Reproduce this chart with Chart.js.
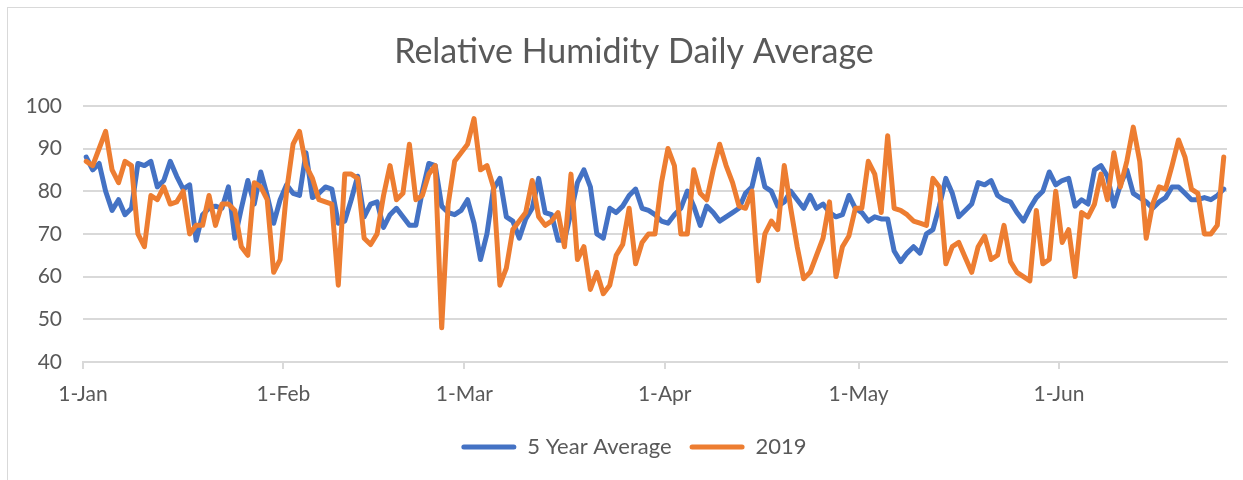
<!DOCTYPE html>
<html>
<head>
<meta charset="utf-8">
<script src="https://cdn.jsdelivr.net/npm/chart.js@4.4.1/dist/chart.umd.min.js"></script>
<style>
  html, body { margin: 0; padding: 0; background: #fff; overflow: hidden; width: 1243px; height: 480px; }
  #frame { position: absolute; left: 7px; top: 7px; width: 1300px; height: 520px; border: 1px solid #d9d9d9; box-sizing: border-box; }
  #wrap { position: absolute; left: 0; top: 0; width: 1243px; height: 480px; }
</style>
</head>
<body>
<div id="frame"></div>
<div id="wrap"><canvas id="chart" width="1243" height="480"></canvas></div>
<script>
'use strict';

// day offsets (from 1-Jan) where the month ticks sit
const monthTicks = [0, 31, 59, 90, 120, 151];
const monthLabels = ['1-Jan', '1-Feb', '1-Mar', '1-Apr', '1-May', '1-Jun'];
const dayCount = 177; // 1-Jan .. 26-Jun

const avg5yr = [
  88, 85, 86.5, 80, 75.5, 78, 74.5, 76, 86.5, 86,
  87, 81, 82.5, 87, 83.5, 80.5, 81.5, 68.5, 74.5, 76,
  76.5, 76, 81, 69, 76, 82.5, 77, 84.5, 79, 72.5,
  78, 81.5, 79.5, 79, 89, 78.5, 79.5, 81, 80.5, 72.5,
  73, 78, 83.5, 74, 77, 77.5, 71.5, 74.5, 76, 74,
  72, 72, 80, 86.5, 86, 76.5, 75, 74.5, 75.5, 78,
  72.5, 64, 70, 80.5, 83, 74, 73, 69, 73.5, 76,
  83, 75, 74.5, 68.5, 68.5, 75, 82, 85, 81, 70,
  69, 76, 75, 76.5, 79, 80.5, 76, 75.5, 74.5, 73,
  72.5, 74.5, 76, 80, 76.5, 72, 76.5, 75, 73, 74,
  75, 76, 79.5, 81, 87.5, 81, 80, 76.5, 77.5, 80,
  78, 76, 79, 76, 77, 75, 74, 74.5, 79, 76,
  75, 73, 74, 73.5, 73.5, 66, 63.5, 65.5, 67, 65.5,
  70, 71, 76.5, 83, 79.5, 74, 75.5, 77, 82, 81.5,
  82.5, 79, 78, 77.5, 75, 73, 76, 78.5, 80, 84.5,
  81.5, 82.5, 83, 76.5, 78, 77, 85, 86, 83.5, 76.5,
  81.5, 85, 79.5, 78.5, 77.5, 76, 77.5, 78.5, 81, 81,
  79.5, 78, 78, 78.5, 78, 79, 80.5
];

const rh2019 = [
  87, 86, 90, 94, 85, 82, 87, 86, 70, 67,
  79, 78, 81, 77, 77.5, 80, 70, 72, 72, 79,
  72, 77, 77, 75.5, 67, 65, 82, 81, 78, 61,
  64, 80, 91, 94, 86, 83, 78, 77.5, 77, 58,
  84, 84, 83, 69, 67.5, 70, 79, 86, 78, 79.5,
  91, 78, 79, 84, 86, 48, 77, 87, 89, 91,
  97, 85, 86, 81, 58, 62, 71, 73, 75, 82.5,
  74, 72, 73, 75, 67, 84, 64, 67, 57, 61,
  56, 58, 65, 67.5, 76, 63, 68, 70, 70, 82,
  90, 86, 70, 70, 85, 79.5, 78, 85, 91, 86,
  82, 76.5, 76, 80, 59, 70, 73, 71, 86, 76,
  67, 59.5, 61, 65, 69, 77.5, 60, 67, 69.5, 76,
  76, 87, 84, 75, 93, 76, 75.5, 74.5, 73, 72.5,
  72, 83, 81, 63, 67, 68, 64.5, 61, 67, 69.5,
  64, 65, 72, 63.5, 61, 60, 59, 75.5, 63, 64,
  80, 68, 71, 60, 75, 74, 77, 84, 78, 89,
  81, 87, 95, 87, 69, 77, 81, 80.5, 86, 92,
  88, 80.5, 79.5, 70, 70, 72, 88
];

const textColor = '#595959';
const gridColor = '#d9d9d9';

// points sit in the middle of each day slot (Excel "between tick marks")
const toPoints = arr => arr.map((v, i) => ({ x: i + 0.5, y: v }));

Chart.defaults.font.family = 'Lato, "Open Sans", sans-serif';
Chart.defaults.color = textColor;

const ctx = document.getElementById('chart').getContext('2d');
new Chart(ctx, {
  type: 'line',
  data: {
    datasets: [{
      label: '5 Year Average',
      data: toPoints(avg5yr),
      borderColor: '#4472C4',
      backgroundColor: '#4472C4',
      borderWidth: 5,
      order: 1
    }, {
      label: '2019',
      data: toPoints(rh2019),
      borderColor: '#ED7D31',
      backgroundColor: '#ED7D31',
      borderWidth: 5,
      order: 0
    }]
  },
  options: {
    animation: false,
    responsive: false,
    devicePixelRatio: 1,
    layout: { padding: { left: 25, right: 0, top: 0, bottom: 12 } },
    elements: {
      line: { tension: 0, borderJoinStyle: 'round', borderCapStyle: 'round', fill: false },
      point: { radius: 0, hoverRadius: 0 }
    },
    scales: {
      x: {
        type: 'linear',
        min: 0,
        max: dayCount,
        afterBuildTicks: s => { s.ticks = monthTicks.map(v => ({ value: v })); },
        afterFit: s => { s.height = 56; },
        ticks: {
          autoSkip: false,
          maxRotation: 0,
          padding: 13,
          color: textColor,
          font: { size: 21 },
          callback: v => monthLabels[monthTicks.indexOf(v)]
        },
        grid: { drawOnChartArea: false, drawTicks: true, tickLength: 7, color: gridColor, lineWidth: 2 },
        border: { color: gridColor, width: 2 }
      },
      y: {
        min: 40,
        max: 100,
        afterFit: s => { s.width = 58; },
        ticks: { stepSize: 10, padding: 21, color: textColor, font: { size: 21 } },
        grid: { color: gridColor, lineWidth: 2, drawTicks: false },
        border: { display: false }
      },
      // empty right-hand spacer so title and legend stay centred like the Excel frame
      spacer: {
        position: 'right',
        min: 40,
        max: 100,
        afterFit: s => { s.width = 16; },
        ticks: { display: false },
        grid: { display: false },
        border: { display: false }
      }
    },
    plugins: {
      title: {
        display: true,
        text: 'Relative Humidity Daily Average',
        color: textColor,
        font: { size: 34, weight: 'normal' },
        padding: { top: 32, bottom: 33 }
      },
      legend: {
        position: 'bottom',
        labels: {
          boxWidth: 55,
          boxHeight: 5,
          useBorderRadius: true,
          borderRadius: 2.5,
          padding: 18,
          color: textColor,
          font: { size: 22 },
          sort: (a, b) => a.datasetIndex - b.datasetIndex,
          generateLabels: chart => Chart.defaults.plugins.legend.labels.generateLabels(chart)
            .map(l => Object.assign(l, { lineWidth: 0 }))
        }
      },
      tooltip: { enabled: false }
    }
  }
});
</script>
</body>
</html>
